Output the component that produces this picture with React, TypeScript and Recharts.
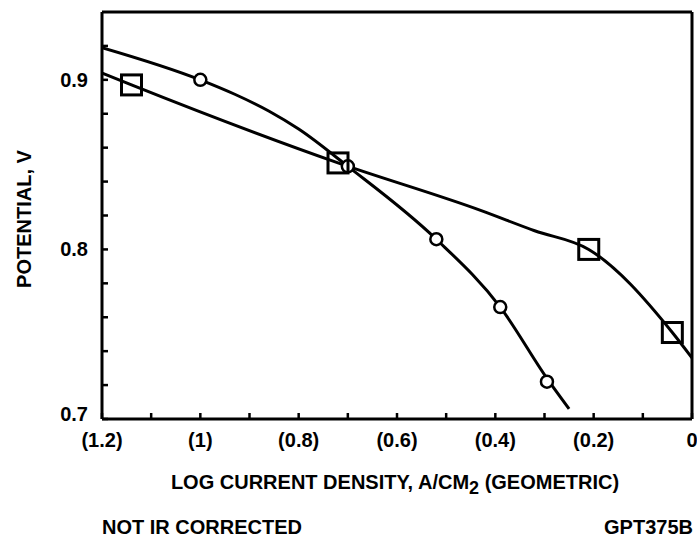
import React from "react";
import { ComposedChart, Line, Scatter, XAxis, YAxis, ReferenceLine, Label } from "recharts";

// circle series: measured points and the drawn curve
const circleX = [-1.0, -0.7, -0.52, -0.39, -0.295];
const circleV = [0.9, 0.849, 0.806, 0.766, 0.722];
const circleCurveX = [-1.2, -1.0, -0.93, -0.86, -0.8, -0.7, -0.52, -0.39, -0.295, -0.25];
const circleCurveV = [0.919, 0.9, 0.8915, 0.8815, 0.871, 0.849, 0.806, 0.766, 0.724, 0.706];

// square series
const squareX = [-1.14, -0.72, -0.21, -0.04];
const squareV = [0.897, 0.851, 0.8, 0.751];
const squareCurveX = [-1.2, -1.14, -0.72, -0.43, -0.32, -0.21, -0.04, 0];
const squareCurveV = [0.904, 0.897, 0.851, 0.823, 0.811, 0.8, 0.751, 0.736];

const xTicks = [-1.2, -1.1, -1.0, -0.9, -0.8, -0.7, -0.6, -0.5, -0.4, -0.3, -0.2, -0.1, 0];
const xTickLabels = ["(1.2)", "", "(1)", "", "(0.8)", "", "(0.6)", "", "(0.4)", "", "(0.2)", "", "0"];
const yTicks = [0.7, 0.72, 0.74, 0.76, 0.78, 0.8, 0.82, 0.84, 0.86, 0.88, 0.9, 0.92];
const yTickLabels: Record<string, string> = { "0.7": "0.7", "0.8": "0.8", "0.9": "0.9" };

const toPoints = (xs: number[], vs: number[]) => xs.map((x, i) => ({ x, y: vs[i] }));

const font = "'Liberation Sans', Arial, sans-serif";
const txt = { fontFamily: font, fontWeight: 700, fontSize: 20, fill: "#000" };

const XTick = (props: any) => {
  const { x, y, payload } = props;
  const idx = xTicks.findIndex((t) => Math.abs(t - payload.value) < 1e-6);
  const label = idx >= 0 ? xTickLabels[idx] : "";
  return (
    <g>
      <line x1={x} x2={x} y1={y} y2={y - 6} stroke="#000" strokeWidth={2.5} />
      {label && (
        <text x={x} y={y + 28} textAnchor="middle" style={txt}>
          {label}
        </text>
      )}
    </g>
  );
};

const YTick = (props: any) => {
  const { x, y, payload } = props;
  const label = yTickLabels[String(Math.round(payload.value * 100) / 100)];
  const shift = payload.value === 0.7 ? -5 : 0;
  return (
    <g>
      <line x1={x} x2={x + 6} y1={y} y2={y} stroke="#000" strokeWidth={2.5} />
      {label && (
        <text x={x - 14} y={y + 7 + shift} textAnchor="end" style={txt}>
          {label}
        </text>
      )}
    </g>
  );
};

const SquareMark = (p: any) => (
  <rect x={p.cx - 10} y={p.cy - 10} width={20} height={20} fill="none" stroke="#000" strokeWidth={3} />
);
const CircleMark = (p: any) => (
  <circle cx={p.cx} cy={p.cy} r={6} fill="#fff" stroke="#000" strokeWidth={2.5} />
);

const XTitle = () => (
  <g>
    <text x={395} y={489} textAnchor="middle" style={txt}>
      LOG CURRENT DENSITY, A/CM<tspan dy={5} fontSize={18}>2</tspan>
      <tspan dy={-5}> (GEOMETRIC)</tspan>
    </text>
    <text x={102} y={534} textAnchor="start" style={txt}>
      NOT IR CORRECTED
    </text>
    <text x={693} y={534} textAnchor="end" style={txt}>
      GPT375B
    </text>
  </g>
);

const YTitle = () => (
  <text x={31} y={219} textAnchor="middle" transform="rotate(-90, 31, 219)" style={txt}>
    POTENTIAL, V
  </text>
);

export default function App() {
  return (
    <div style={{ position: "absolute", left: 0, top: 0, background: "#fff" }}>
      <ComposedChart width={697} height={539} margin={{ top: 12, right: 5, left: 0, bottom: 0 }}>
        <XAxis
          type="number"
          dataKey="x"
          domain={[-1.2, 0]}
          ticks={xTicks}
          interval={0}
          height={120}
          tickSize={0}
          tickMargin={0}
          tickLine={false}
          tick={<XTick />}
          axisLine={{ stroke: "#000", strokeWidth: 3 }}
          allowDataOverflow
        >
          <Label content={<XTitle />} />
        </XAxis>
        <YAxis
          type="number"
          dataKey="y"
          domain={[0.7, 0.94]}
          ticks={yTicks}
          interval={0}
          width={102}
          tickSize={0}
          tickMargin={0}
          tickLine={false}
          tick={<YTick />}
          axisLine={{ stroke: "#000", strokeWidth: 3 }}
          allowDataOverflow
        >
          <Label content={<YTitle />} />
        </YAxis>
        <ReferenceLine y={0.94} stroke="#000" strokeWidth={3} />
        <ReferenceLine x={0} stroke="#000" strokeWidth={3} />
        <Line
          data={toPoints(circleCurveX, circleCurveV)}
          dataKey="y"
          type="monotone"
          stroke="#000"
          strokeWidth={3}
          dot={false}
          isAnimationActive={false}
        />
        <Line
          data={toPoints(squareCurveX, squareCurveV)}
          dataKey="y"
          type="monotone"
          stroke="#000"
          strokeWidth={3}
          dot={false}
          isAnimationActive={false}
        />
        <Scatter data={toPoints(circleX, circleV)} dataKey="y" shape={<CircleMark />} isAnimationActive={false} />
        <Scatter data={toPoints(squareX, squareV)} dataKey="y" shape={<SquareMark />} isAnimationActive={false} />
      </ComposedChart>
    </div>
  );
}
